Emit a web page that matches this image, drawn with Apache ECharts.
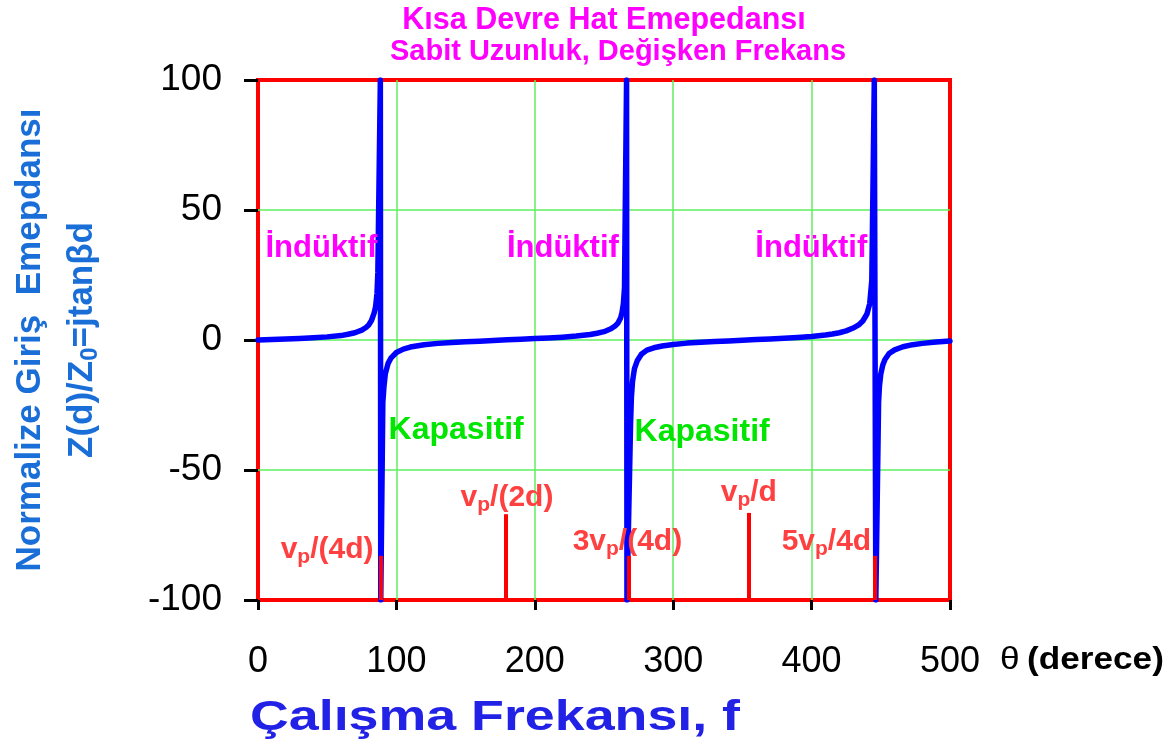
<!DOCTYPE html>
<html>
<head>
<meta charset="utf-8">
<script src="https://cdn.jsdelivr.net/npm/echarts@6/dist/echarts.min.js"></script>
<style>
  html, body { margin: 0; padding: 0; background: #ffffff; }
  #chart { width: 1176px; height: 746px; }
</style>
</head>
<body>
<div id="chart"></div>
<script>
// Normalized input impedance of a short-circuited line: Z(d)/Z0 = j·tan(βd)
// θ in degrees, values sampled along the curve (±100 = where a branch leaves the plot)
const thetaDeg = [
  0, 10, 20, 30, 40, 50, 60, 65, 70, 75, 78, 80, 82, 84, 85, 86, 86.6,
  88.4, 88.7,
  90.2, 91, 92, 94, 96, 100, 105, 110, 120, 130, 140, 150, 160, 170, 180, 190, 200, 210,
  220, 230, 240, 245, 250, 255, 258, 260, 262, 263, 264, 264.8,
  266.3, 266.6,
  269.2, 269.8, 270.6, 272, 274, 277, 281, 286, 292, 300, 310, 320, 330, 340, 350, 360,
  370, 380, 390, 400, 410, 415, 420, 425, 430, 434, 437, 440, 442, 443.5,
  445.3, 446.4,
  448.4, 449, 450, 451.5, 453, 456, 460, 466, 473, 480, 490, 500
];
const zNorm = [
  0, 0.2, 0.4, 0.6, 0.85, 1.2, 1.7, 2.2, 2.8, 3.8, 4.8, 5.8, 7.5, 10.5, 13, 18, 26,
  100, -100,
  -24, -18, -13, -9, -7, -4.8, -3.5, -2.7, -1.8, -1.3, -0.95, -0.7, -0.45, -0.2, 0.05, 0.3, 0.55, 0.8,
  1.1, 1.5, 2.1, 2.6, 3.2, 4.3, 5.4, 6.4, 8.5, 10.5, 14, 20,
  100, -100,
  -32, -22, -16, -11, -8, -5.5, -3.9, -3, -2.3, -1.7, -1.2, -0.9, -0.6, -0.35, -0.1, 0.15,
  0.4, 0.65, 0.95, 1.35, 1.9, 2.3, 2.8, 3.5, 4.6, 5.8, 7.3, 10, 14, 23,
  100, -100,
  -24, -18, -13, -9.5, -7.5, -5.2, -3.8, -2.6, -1.8, -1.3, -0.8, -0.4
];

// Frequency markers (odd/even multiples of v_p/(4d)) rising from the bottom edge
const markerTheta = [88.6, 179.2, 267.6, 354.3, 445.3];
const markerTop = [-83, -67, -83, -66.5, -83];
const markerLabel = [
  '{m|v}{s|p}{m|/(4d)}',
  '{m|v}{s|p}{m|/(2d)}',
  '{m|3v}{s|p}{m|/(4d)}',
  '{m|v}{s|p}{m|/d}',
  '{m|5v}{s|p}{m|/4d}'
];
const markerLabelTheta = [16, 146, 227, 334, 378];
const markerLabelZ = [-80.5, -60.5, -77.5, -58.8, -77.5];

// Region names: inductive above the axis, capacitive below
const inductiveText = ['İndüktif', 'İndüktif', 'İndüktif'];
const inductiveTheta = [5, 179.5, 359];
const inductiveZ = [35.4, 35.4, 35.4];
const capacitiveText = ['Kapasitif', 'Kapasitif'];
const capacitiveTheta = [94, 271.7];
const capacitiveZ = [-34.6, -35.4];

const titleLines = ['Kısa Devre Hat Emepedansı', 'Sabit Uzunluk, Değişken Frekans'];

const FONT = '"Liberation Sans", Arial, Helvetica, sans-serif';

const curve = thetaDeg.map((t, i) => [t, zNorm[i]]);

const labelPoints = (xs, ys, texts) => xs.map((x, i) => ({
  value: [x, ys[i]],
  label: { formatter: texts[i] }
}));

// invisible anchor symbol; opacity kept at 1 so the labels stay fully opaque
const hiddenDot = { color: 'rgba(0,0,0,0)', opacity: 1 };

const chart = echarts.init(document.getElementById('chart'), null, { renderer: 'canvas' });

const option = {
  animation: false,
  backgroundColor: '#ffffff',
  grid: {
    left: 258, right: 226, top: 80, bottom: 146,
    show: true,
    borderColor: '#ff0000',
    borderWidth: 4,
    backgroundColor: 'transparent'
  },
  xAxis: {
    type: 'value',
    min: 0, max: 500, interval: 100,
    axisLine: { show: false, onZero: false },
    axisTick: { show: true, inside: false, length: 10, lineStyle: { color: '#000000', width: 3 } },
    axisLabel: { color: '#000000', fontSize: 36, fontFamily: FONT, margin: 44 },
    splitLine: { show: true, showMinLine: false, showMaxLine: false, lineStyle: { color: '#5fef5f', width: 1.5 } }
  },
  yAxis: {
    type: 'value',
    min: -100, max: 100, interval: 50,
    axisLine: { show: false, onZero: false },
    axisTick: { show: true, inside: false, length: 14, lineStyle: { color: '#000000', width: 3 } },
    axisLabel: { color: '#000000', fontSize: 37, fontFamily: FONT, margin: 36 },
    splitLine: { show: true, showMinLine: false, showMaxLine: false, lineStyle: { color: '#5fef5f', width: 1.5 } },
    name: '{a|Normalize Giriş  Emepdansı}\n{a|Z(d)/Z}{s|0}{a|=jtanβd}',
    nameLocation: 'middle',
    nameRotate: 90,
    nameGap: 150,
    nameTextStyle: {
      color: '#1a6ed8', fontFamily: FONT, fontWeight: 'bold', fontSize: 35,
      rich: {
        a: { color: '#1a6ed8', fontFamily: FONT, fontWeight: 'bold', fontSize: 35, lineHeight: 52 },
        s: { color: '#1a6ed8', fontFamily: FONT, fontWeight: 'bold', fontSize: 24, lineHeight: 24,
             verticalAlign: 'bottom', padding: [0, 0, 6, 0] }
      }
    }
  },
  series: [
    {
      name: 'Z/Z0',
      type: 'line',
      data: curve,
      showSymbol: false,
      symbol: 'none',
      clip: true,
      lineStyle: { color: '#0000ff', width: 5.5, cap: 'round', join: 'round' },
      z: 3
    },
    {
      name: 'markers',
      type: 'lines',
      coordinateSystem: 'cartesian2d',
      polyline: false,
      data: markerTheta.map((t, i) => ({ coords: [[t, -100], [t, markerTop[i]]] })),
      lineStyle: { color: '#ff0000', width: 4, opacity: 1, curveness: 0 },
      z: 4
    },
    {
      name: 'marker labels',
      type: 'scatter',
      symbolSize: 1,
      itemStyle: hiddenDot,
      data: labelPoints(markerLabelTheta, markerLabelZ, markerLabel),
      label: {
        show: true, position: 'right', distance: 0,
        rich: {
          m: { color: '#ff4040', fontFamily: FONT, fontWeight: 'bold', fontSize: 30, lineHeight: 36 },
          s: { color: '#ff4040', fontFamily: FONT, fontWeight: 'bold', fontSize: 21, lineHeight: 19, verticalAlign: 'bottom' }
        }
      },
      z: 5
    },
    {
      name: 'inductive',
      type: 'scatter',
      symbolSize: 1,
      itemStyle: hiddenDot,
      data: labelPoints(inductiveTheta, inductiveZ, inductiveText),
      label: {
        show: true, position: 'right', distance: 0,
        color: '#ff00ff', fontFamily: FONT, fontWeight: 'bold', fontSize: 31
      },
      z: 5
    },
    {
      name: 'capacitive',
      type: 'scatter',
      symbolSize: 1,
      itemStyle: hiddenDot,
      data: labelPoints(capacitiveTheta, capacitiveZ, capacitiveText),
      label: {
        show: true, position: 'right', distance: 0,
        color: '#00e600', fontFamily: FONT, fontWeight: 'bold', fontSize: 32
      },
      z: 5
    }
  ],
  graphic: [
    {
      type: 'text', x: 604, y: 21, silent: true,
      style: { text: titleLines[0], fill: '#ff00ff', font: 'bold 30.5px ' + FONT,
               align: 'center', verticalAlign: 'middle', textAlign: 'center', textVerticalAlign: 'middle' }
    },
    {
      type: 'text', x: 618, y: 52, silent: true,
      style: { text: titleLines[1], fill: '#ff00ff', font: 'bold 29px ' + FONT,
               align: 'center', verticalAlign: 'middle', textAlign: 'center', textVerticalAlign: 'middle' }
    },
    {
      type: 'text', x: 495, y: 718, scaleX: 1.28, silent: true,
      style: { text: 'Çalışma Frekansı, f', fill: '#2222e6', font: 'bold 42px ' + FONT,
               align: 'center', verticalAlign: 'middle', textAlign: 'center', textVerticalAlign: 'middle' }
    },
    {
      type: 'text', x: 1000, y: 660, scaleX: 1.1, silent: true,
      style: {
        text: '{t|θ}  {d|(derece)}',
        align: 'left', verticalAlign: 'middle', textAlign: 'left', textVerticalAlign: 'middle',
        rich: {
          t: { fill: '#000000', color: '#000000', fontSize: 32, fontFamily: FONT },
          d: { fill: '#000000', color: '#000000', fontSize: 32, fontWeight: 'bold', fontFamily: FONT }
        }
      }
    }
  ]
};

chart.setOption(option);
</script>
</body>
</html>
